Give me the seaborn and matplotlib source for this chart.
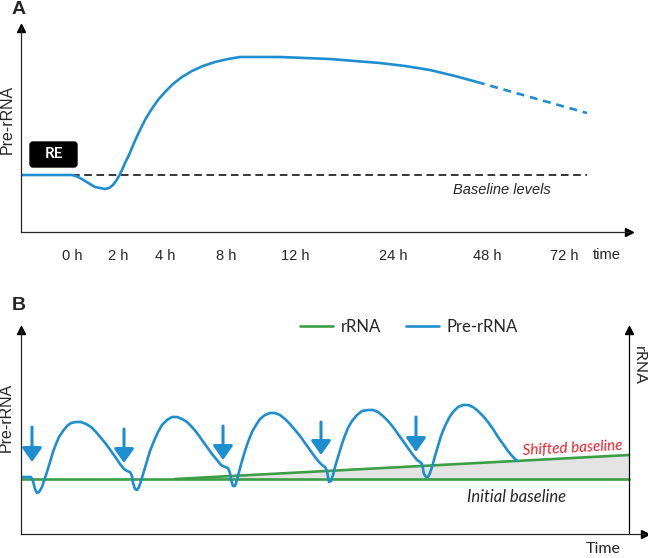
import matplotlib
matplotlib.use("Agg")
import matplotlib.pyplot as plt
import seaborn as sns
from matplotlib.lines import Line2D
from matplotlib.patches import FancyBboxPatch

# ---------------------------------------------------------
# DATA (schematic units)
# ---------------------------------------------------------
# Panel A: pre-rRNA after RE treatment
TICK_POS = [51, 97, 144, 205, 274, 372, 466, 543]
TICK_LABELS = ["0 h", "2 h", "4 h", "8 h", "12 h", "24 h", "48 h", "72 h"]

A_X = [0, 51, 55, 59, 64, 69, 74, 79, 84, 88, 92, 95, 98, 101, 104, 108, 113,
       118, 124, 130, 137, 144, 152, 161, 171, 182, 194, 207, 219, 234, 259,
       284, 309, 334, 359, 384, 409, 434, 456]
A_Y = [57, 57, 56, 54, 51, 48, 45, 44, 43, 44, 47, 51, 56, 62, 69, 77, 89,
       100, 112, 122, 132, 140, 148, 155, 161, 166, 170, 173, 175, 175, 175,
       174, 173, 171, 169, 166, 162, 156, 150]
A_TAIL_X = [456, 509, 566]
A_TAIL_Y = [150, 135, 119]
A_BASE_X = [51, 566]
A_BASE_Y = [57, 57]

# Panel B: oscillating pre-rRNA and rRNA baseline
B_X = [2, 10, 12, 14, 16, 18, 21, 23, 26, 29, 32, 35, 38, 42, 46, 50, 55, 60,
       65, 70, 75, 80, 85, 90, 95, 99, 103, 106, 109, 111, 112, 114, 116, 118,
       120,
       123, 126, 129, 133, 137, 141, 146, 151, 156, 161, 166, 171, 176, 181,
       186, 191, 196, 200, 204, 207, 209, 210, 212, 214, 216, 218,
       221, 224, 227, 231, 235, 239, 244, 249, 254, 259, 264, 269, 274, 279,
       284, 289, 294, 298, 301, 304, 306, 307, 308, 310, 312, 314,
       317, 320, 323, 327, 331, 336, 341, 347, 352, 357, 362, 367, 372, 377,
       382, 387, 392, 396, 399, 401, 402, 403, 405, 407, 409, 411,
       414, 417, 420, 424, 428, 432, 437, 442, 447, 452, 457, 462, 467, 472,
       477, 482, 487, 492, 496]
B_Y = [57, 57, 53, 45, 41, 42, 47, 53, 62, 72, 82, 90, 97, 103, 108, 111, 112,
       112, 110, 107, 102, 96, 90, 83, 76, 70, 65, 63, 62, 58, 51, 45, 44, 47,
       53,
       63, 73, 83, 93, 102, 109, 114, 117, 117, 115, 112, 107, 101, 94, 87,
       80, 74, 69, 67, 66, 61, 54, 48, 48, 54, 62,
       73, 83, 92, 102, 109, 115, 119, 121, 121, 119, 115, 110, 104, 98, 91,
       84, 77, 72, 69, 67, 63, 57, 52, 53, 59, 67,
       77, 87, 96, 106, 113, 119, 123, 124, 124, 122, 118, 113, 107, 100, 93,
       86, 79, 74, 72, 70, 65, 60, 57, 57, 61, 67,
       78, 88, 98, 108, 116, 122, 127, 129, 129, 127, 123, 118, 112, 105, 97,
       90, 83, 77, 73]
INIT_X = [1, 608]
INIT_Y = [55, 55]
SHIFT_X = [154, 608]
SHIFT_Y = [55, 79]
ARROW_X = [11, 103, 202, 300, 395]
ARROW_TOP = [107, 105, 108, 112, 117]
ARROW_TIP = [72, 71, 74, 79, 82]

BLUE = "#1d8fd0"
GREEN = "#3c9f45"
RED = "#e3222b"
GREY = "#e4e4e4"


def axis_arrows(ax):
    ax.plot(0, 1, "^", color="black", ms=6, transform=ax.get_xaxis_transform(), clip_on=False)
    ax.plot(1, 0, ">", color="black", ms=6, transform=ax.get_yaxis_transform(), clip_on=False)


def main():
    sns.set_style("white")
    plt.rcParams["font.family"] = ["Lato", "DejaVu Sans"]
    plt.rcParams["axes.linewidth"] = 0.9
    plt.rcParams["lines.solid_joinstyle"] = "round"

    fig = plt.figure(figsize=(6.48, 5.58), dpi=100)

    # ---------------- PANEL A ----------------
    axA = fig.add_axes([21 / 648, (558 - 232) / 558, 608 / 648, 204 / 558])
    axA.set_xlim(0, 608)
    axA.set_ylim(0, 204)
    sns.despine(ax=axA)

    sns.lineplot(x=A_BASE_X, y=A_BASE_Y, ax=axA, color="black", lw=1.1,
                 linestyle=(0, (5, 3)), sort=False, estimator=None)
    sns.lineplot(x=A_X, y=A_Y, ax=axA, color=BLUE, lw=1.9, sort=False, estimator=None)
    sns.lineplot(x=A_TAIL_X, y=A_TAIL_Y, ax=axA, color=BLUE, lw=1.9,
                 linestyle=(0, (3, 2.2)), sort=False, estimator=None)

    axA.set_xticks(TICK_POS)
    axA.set_xticklabels(TICK_LABELS, family=["Liberation Sans"], fontsize=10.5)
    axA.set_yticks([])
    axA.tick_params(axis="x", length=0, pad=12)
    axA.text(586, -23, "time", ha="center", va="center",
             family=["Liberation Sans"], fontsize=10.5)
    axA.set_ylabel("Pre-rRNA", family=["Liberation Sans"], fontsize=11.5)
    axA.yaxis.set_label_coords(-0.011, 0.55)
    axA.text(481, 42, "Baseline levels", ha="center", va="center", style="italic",
             family=["Liberation Sans"], fontsize=10.5)

    box = FancyBboxPatch((9, 65), 47, 25, boxstyle="round,pad=0,rounding_size=3",
                         fc="black", ec="black")
    axA.add_patch(box)
    axA.text(32.5, 77.5, "RE", ha="center", va="center", color="white",
             fontweight="bold", fontsize=11)
    axis_arrows(axA)
    fig.text(19 / 648, 1 - 9 / 558, "A", ha="center", va="center", fontweight="bold",
             family=["Liberation Sans"], fontsize=14)

    # ---------------- PANEL B ----------------
    axB = fig.add_axes([21 / 648, (558 - 534) / 558, 624 / 648, 204 / 558])
    axB.set_xlim(0, 624)
    axB.set_ylim(0, 204)
    sns.despine(ax=axB)

    axB.fill_between(SHIFT_X, [INIT_Y[0]] * len(SHIFT_X), SHIFT_Y, color=GREY, lw=0)
    sns.lineplot(x=INIT_X, y=INIT_Y, ax=axB, color=GREEN, lw=1.9, sort=False, estimator=None)
    sns.lineplot(x=SHIFT_X, y=SHIFT_Y, ax=axB, color=GREEN, lw=1.9, sort=False, estimator=None)
    sns.lineplot(x=B_X, y=B_Y, ax=axB, color=BLUE, lw=1.9, sort=False, estimator=None)

    for x, top, tip in zip(ARROW_X, ARROW_TOP, ARROW_TIP):
        axB.annotate("", xy=(x, tip), xytext=(x, top),
                     arrowprops=dict(arrowstyle="-|>,head_width=0.6,head_length=0.85",
                                     lw=2.2, color=BLUE, mutation_scale=10,
                                     shrinkA=0, shrinkB=0))

    # right rRNA axis
    axB.plot([608, 608], [0, 204], color="black", lw=0.9, clip_on=False)
    axB.plot(608, 204, "^", color="black", ms=6, clip_on=False)
    axB.text(618, 168, "rRNA", rotation=-90, ha="center", va="center", fontsize=11.5)

    axB.set_xticks([])
    axB.set_yticks([])
    axB.set_ylabel("Pre-rRNA", family=["Liberation Sans"], fontsize=11.5)
    axB.yaxis.set_label_coords(-0.011, 0.57)
    axB.text(582, -15, "Time", ha="center", va="center", fontsize=11.5)
    axB.text(552, 86, "Shifted baseline", ha="center", va="center", color=RED,
             style="italic", fontsize=11, rotation=3)
    axB.text(496, 37, "Initial baseline", ha="center", va="center",
             style="italic", fontsize=12)
    axis_arrows(axB)

    handles = [Line2D([], [], color=GREEN, lw=1.9), Line2D([], [], color=BLUE, lw=1.9)]
    fig.legend(handles, ["rRNA", "Pre-rRNA"], ncol=2, frameon=False, fontsize=12,
               loc="center left", bbox_to_anchor=(300 / 648, 1 - 327 / 558),
               borderaxespad=0, borderpad=0, handlelength=2.0, handletextpad=0.45,
               columnspacing=1.5)
    fig.text(19 / 648, 1 - 305 / 558, "B", ha="center", va="center", fontweight="bold",
             family=["Liberation Sans"], fontsize=14)

    fig.savefig("out.png", dpi=100)
    plt.close(fig)


if __name__ == "__main__":
    main()
